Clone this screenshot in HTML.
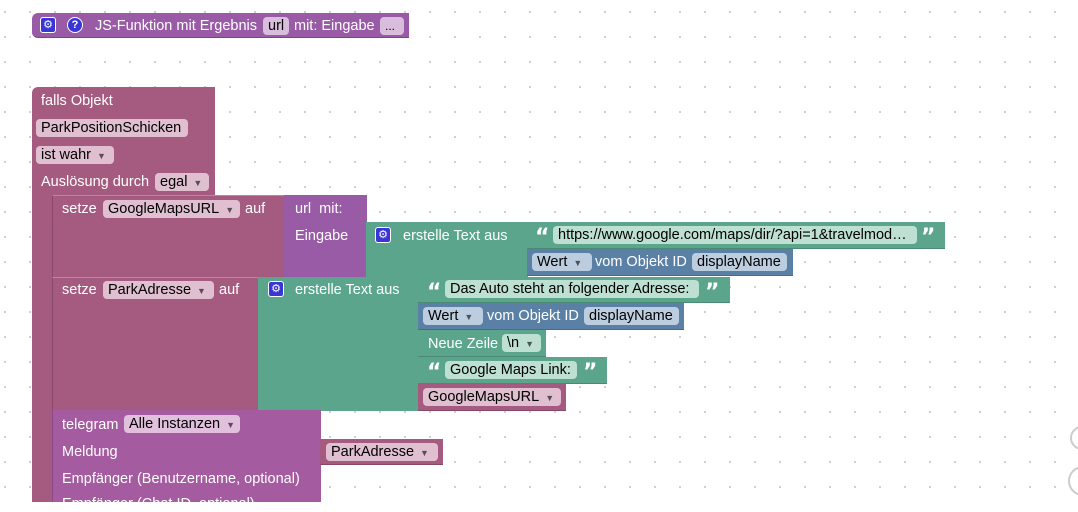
<!DOCTYPE html>
<html><head><meta charset="utf-8"><style>
body{margin:0;width:1078px;height:502px;overflow:hidden;background:#fff;position:relative;font-family:"Liberation Sans",Arial,sans-serif;font-size:14.5px;}
.grid{position:absolute;left:0;top:0;width:1078px;height:502px;background-image:radial-gradient(circle,#c8c8c8 0.9px,transparent 1.2px);background-size:25px 25px;background-position:-7.5px -0.5px;}
.b{position:absolute;box-sizing:border-box;}
.t{position:absolute;color:#fff;white-space:nowrap;line-height:16px;}
.f{position:absolute;box-sizing:border-box;border-radius:4px;color:#000;white-space:nowrap;line-height:18px;padding-left:5px;height:18px;overflow:hidden;}
.ic{position:absolute;width:16px;height:16px;border-radius:3px;background:#3a36d4;border:1px solid #fff;box-sizing:border-box;color:#fff;font-size:11px;text-align:center;line-height:14px;}
.q{position:absolute;color:#fff;font-size:22px;font-weight:bold;line-height:16px;font-family:"DejaVu Sans",sans-serif;}
.dd{font-size:9px;margin-left:6px;opacity:.6;}
</style></head><body>
<div class="grid"></div>

<div class="b" style="left:32px;top:13px;width:377px;height:25px;background:#995ba5;border-radius:6px 0 0 6px;border-bottom:1px solid #7a4585"></div>
<div class="ic" style="left:40px;top:17px">⚙</div>
<div class="ic" style="left:67px;top:17px;border-radius:50%;font-weight:bold">?</div>
<div class="t" style="left:95px;top:18px">JS-Funktion mit Ergebnis</div>
<div class="f" style="left:263px;top:17px;width:26px;background:#d8bddc">url</div>
<div class="t" style="left:294px;top:18px">mit: Eingabe</div>
<div class="f" style="left:380px;top:17px;width:24px;background:#d8bddc;font-size:12px">...</div>

<div class="b" style="left:32px;top:87px;width:183px;height:110px;background:#a55b80;border-radius:6px 0 0 0"></div>
<div class="b" style="left:32px;top:190px;width:21px;height:312px;background:#a55b80"></div>
<div class="t" style="left:41px;top:93px">falls Objekt</div>
<div class="f" style="left:36px;top:119px;width:152px;background:#e0c0d0">ParkPositionSchicken</div>
<div class="f" style="left:36px;top:146px;width:78px;background:#e0c0d0">ist wahr<span class="dd">▼</span></div>
<div class="t" style="left:41px;top:174px">Auslösung durch</div>
<div class="f" style="left:155px;top:173px;width:54px;background:#e0c0d0">egal<span class="dd">▼</span></div>

<div class="b" style="left:52px;top:195px;width:233px;height:83px;background:#a55b80;border-top:1px solid #c283a2;border-left:1px solid #8a4868"></div>
<div class="t" style="left:62px;top:201px">setze</div>
<div class="f" style="left:103px;top:200px;width:137px;background:#e0c0d0">GoogleMapsURL<span class="dd">▼</span></div>
<div class="t" style="left:245px;top:201px">auf</div>
<div class="b" style="left:284px;top:195px;width:83px;height:83px;background:#995ba5"></div>
<div class="t" style="left:295px;top:201px">url&nbsp; mit:</div>
<div class="t" style="left:295px;top:228px">Eingabe</div>
<div class="b" style="left:366px;top:222px;width:162px;height:56px;background:#5ba58c"></div>
<div class="ic" style="left:375px;top:227px">⚙</div>
<div class="t" style="left:403px;top:228px">erstelle Text aus</div>
<div class="b" style="left:527px;top:222px;width:418px;height:27px;background:#5ba58c;border-bottom:1px solid #4a8a74"></div>
<div class="q" style="left:535px;top:230px">“</div>
<div class="f" style="left:553px;top:226px;width:364px;background:#bde0d2">https://www.google.com/maps/dir/?api=1&amp;travelmod…</div>
<div class="q" style="left:921px;top:230px">”</div>
<div class="b" style="left:527px;top:249px;width:266px;height:27px;background:#5b80a5;border-bottom:1px solid #4a6a8a"></div>
<div class="f" style="left:532px;top:253px;width:60px;background:#bdcde0">Wert<span class="dd">▼</span></div>
<div class="t" style="left:595px;top:254px">vom Objekt ID</div>
<div class="f" style="left:692px;top:253px;width:95px;background:#bdcde0">displayName</div>

<div class="b" style="left:52px;top:277px;width:207px;height:134px;background:#a55b80;border-top:1px solid #c283a2;border-left:1px solid #8a4868"></div>
<div class="t" style="left:62px;top:282px">setze</div>
<div class="f" style="left:103px;top:281px;width:111px;background:#e0c0d0">ParkAdresse<span class="dd">▼</span></div>
<div class="t" style="left:219px;top:282px">auf</div>
<div class="b" style="left:258px;top:277px;width:161px;height:134px;background:#5ba58c"></div>
<div class="ic" style="left:268px;top:281px">⚙</div>
<div class="t" style="left:295px;top:282px">erstelle Text aus</div>
<div class="b" style="left:418px;top:277px;width:312px;height:26px;background:#5ba58c;border-bottom:1px solid #4a8a74"></div>
<div class="q" style="left:427px;top:285px">“</div>
<div class="f" style="left:445px;top:280px;width:254px;background:#bde0d2">Das Auto steht an folgender Adresse:</div>
<div class="q" style="left:705px;top:285px">”</div>
<div class="b" style="left:418px;top:303px;width:266px;height:27px;background:#5b80a5;border-bottom:1px solid #4a6a8a"></div>
<div class="f" style="left:423px;top:307px;width:60px;background:#bdcde0">Wert<span class="dd">▼</span></div>
<div class="t" style="left:487px;top:308px">vom Objekt ID</div>
<div class="f" style="left:584px;top:307px;width:95px;background:#bdcde0">displayName</div>
<div class="b" style="left:418px;top:330px;width:128px;height:27px;background:#5ba58c;border-bottom:1px solid #4a8a74"></div>
<div class="t" style="left:428px;top:336px">Neue Zeile</div>
<div class="f" style="left:502px;top:334px;width:39px;background:#bde0d2">\n<span class="dd">▼</span></div>
<div class="b" style="left:418px;top:357px;width:189px;height:27px;background:#5ba58c;border-bottom:1px solid #4a8a74"></div>
<div class="q" style="left:427px;top:365px">“</div>
<div class="f" style="left:445px;top:361px;width:132px;background:#bde0d2">Google Maps Link:</div>
<div class="q" style="left:583px;top:365px">”</div>
<div class="b" style="left:418px;top:384px;width:148px;height:27px;background:#a55b80;border-bottom:1px solid #8a4868"></div>
<div class="f" style="left:423px;top:388px;width:138px;background:#e0c0d0">GoogleMapsURL<span class="dd">▼</span></div>

<div class="b" style="left:52px;top:410px;width:269px;height:92px;background:#a55ba0;border-left:1px solid #8a4885"></div>
<div class="t" style="left:62px;top:417px">telegram</div>
<div class="f" style="left:124px;top:415px;width:116px;background:#e0c0dc">Alle Instanzen<span class="dd">▼</span></div>
<div class="t" style="left:62px;top:444px">Meldung</div>
<div class="t" style="left:62px;top:471px">Empfänger (Benutzername, optional)</div>
<div class="t" style="left:62px;top:496px">Empfänger (Chat ID, optional)</div>
<div class="b" style="left:320px;top:439px;width:123px;height:26px;background:#a55b80;border-bottom:1px solid #8a4868"></div>
<div class="f" style="left:326px;top:443px;width:112px;background:#e0c0d0">ParkAdresse<span class="dd">▼</span></div>

<div class="b" style="left:1070px;top:426px;width:24px;height:24px;border:2px solid #ccc;border-radius:50%"></div>
<div class="b" style="left:1068px;top:466px;width:30px;height:30px;border:2px solid #ccc;border-radius:50%"></div>
</body></html>
